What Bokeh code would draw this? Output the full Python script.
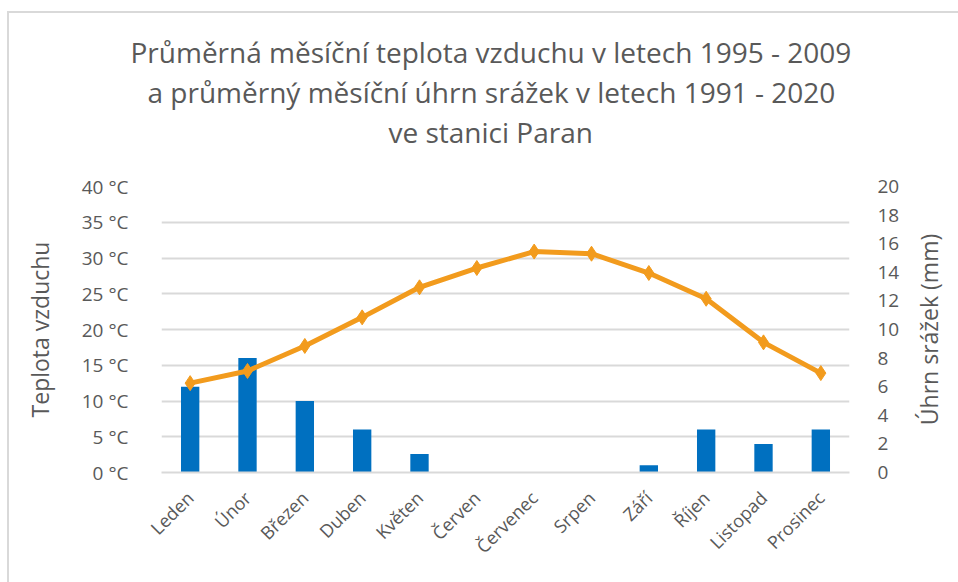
from bokeh.plotting import figure
from bokeh.layouts import row
from bokeh.models import (Range1d, LinearAxis, FixedTicker, PrintfTickFormatter,
                          Title, FactorRange)
from bokeh.embed import file_html
from bokeh.resources import INLINE
import math

months = ["Leden", "Únor", "Březen", "Duben", "Květen", "Červen", "Červenec",
          "Srpen", "Září", "Říjen", "Listopad", "Prosinec"]
temperature = [12.5, 14.2, 17.7, 21.7, 25.9, 28.6, 30.9, 30.6, 27.9, 24.3, 18.2, 13.9]
precipitation = [6.0, 8.0, 5.0, 3.0, 1.3, 0.0, 0.0, 0.0, 0.5, 3.0, 2.0, 3.0]
temp_ticks = [0, 5, 10, 15, 20, 25, 30, 35, 40]
precip_ticks = [0, 2, 4, 6, 8, 10, 12, 14, 16, 18, 20]
title_lines = ["Průměrná měsíční teplota vzduchu v letech 1995 - 2009",
               "a průměrný měsíční úhrn srážek v letech 1991 - 2020",
               "ve stanici Paran"]
right_axis_title = "Úhrn srážek (mm)"

FONT = "Open Sans"
GRAY = "#595959"
GRID = "#d9d9d9"

p = figure(width=900, height=569, x_range=FactorRange(*months), y_range=Range1d(0, 40),
           output_backend="svg", toolbar_location=None,
           min_border_left=152, min_border_right=60, min_border_top=170, min_border_bottom=110)
p.extra_y_ranges = {"precip": Range1d(0, 20)}
p.outline_line_color = None
p.background_fill_color = "white"
p.border_fill_color = "white"

p.vbar(x=months, top=precipitation, width=0.32, y_range_name="precip",
       fill_color="#0070C0", line_color=None)
p.line(x=months, y=temperature, line_color="#F29B1D", line_width=5)
p.scatter(x=months, y=temperature, marker="diamond", size=15,
          fill_color="#F29B1D", line_color="#F29B1D")

ax = p.yaxis[0]
ax.ticker = FixedTicker(ticks=temp_ticks)
ax.formatter = PrintfTickFormatter(format="%d °C")
ax.axis_label = "Teplota vzduchu"

rax = LinearAxis(y_range_name="precip", ticker=FixedTicker(ticks=precip_ticks))
p.add_layout(rax, "right")

for a in (ax, rax):
    a.axis_line_color = None
    a.major_tick_line_color = None
    a.minor_tick_line_color = None
    a.major_label_text_font = FONT
    a.major_label_text_font_size = "19px"
    a.major_label_text_color = GRAY
    a.axis_label_text_font = FONT
    a.axis_label_text_font_size = "23px"
    a.axis_label_text_color = GRAY
    a.axis_label_text_font_style = "normal"
ax.major_label_standoff = 27
ax.axis_label_standoff = 23
rax.major_label_standoff = 22

xa = p.xaxis[0]
xa.axis_line_color = GRID
xa.axis_line_width = 2
xa.major_tick_line_color = None
xa.minor_tick_line_color = None
xa.major_label_orientation = math.pi / 4
xa.major_label_text_font = FONT
xa.major_label_text_font_size = "18px"
xa.major_label_text_color = GRAY
xa.major_label_standoff = 16

p.xgrid.grid_line_color = None
p.ygrid.grid_line_color = GRID
p.ygrid.grid_line_width = 2
p.ygrid.ticker = FixedTicker(ticks=temp_ticks[1:])

# spacer between the title block and the plot area
p.add_layout(Title(text=" ", text_font_size="10px", standoff=23), "above")
title_offsets = [227, -14, -31]
for line, off in zip(reversed(title_lines), title_offsets):
    t = Title(text=line, align="left", offset=off, text_font=FONT, text_font_size="28px",
              text_color=GRAY, text_font_style="normal", standoff=0)
    p.add_layout(t, "above")

# narrow companion figure that only carries the right-hand axis title
# (a left-side axis title reads bottom-to-top, like the reference)
p2 = figure(width=49, height=569, x_range=Range1d(0, 1), y_range=Range1d(0, 1),
            output_backend="svg", toolbar_location=None,
            min_border_left=28, min_border_right=0, min_border_top=173, min_border_bottom=107)
p2.outline_line_color = None
p2.xaxis.visible = False
p2.grid.visible = False
lax = p2.yaxis[0]
lax.ticker = FixedTicker(ticks=[])
lax.axis_line_color = None
lax.major_tick_out = 0
lax.major_tick_in = 0
lax.major_label_standoff = 0
lax.axis_label = right_axis_title
lax.axis_label_standoff = 0
lax.axis_label_text_font = FONT
lax.axis_label_text_font_size = "23px"
lax.axis_label_text_color = GRAY
lax.axis_label_text_font_style = "normal"

layout = row(p, p2, styles={"margin-left": "7px", "margin-top": "11px",
                            "border-left": f"2px solid {GRID}",
                            "border-top": f"2px solid {GRID}"})

open("out.html", "w").write(file_html(layout, INLINE))
